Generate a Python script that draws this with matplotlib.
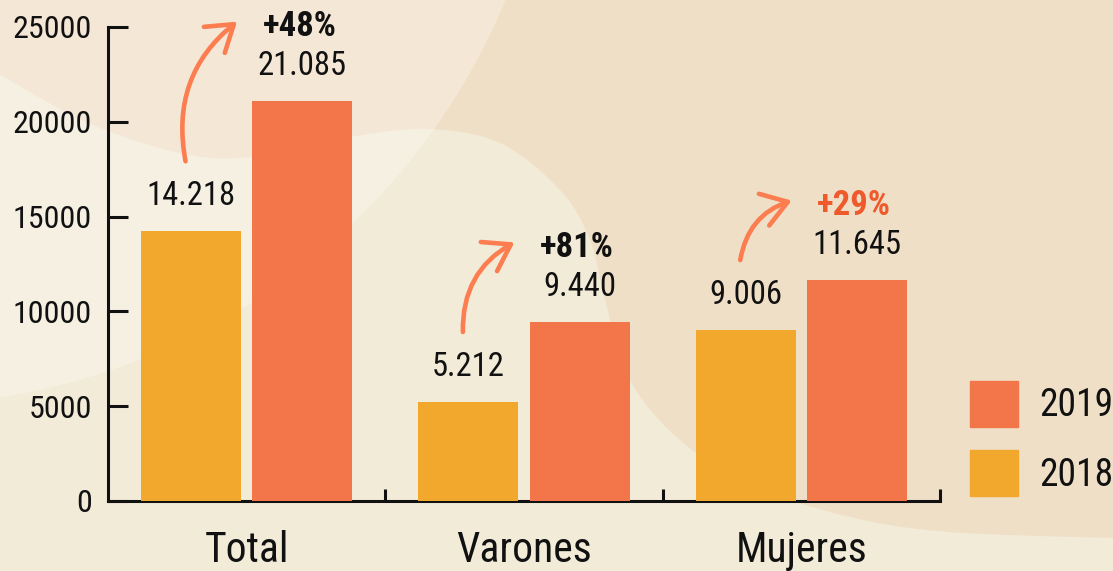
import numpy as np
import matplotlib
matplotlib.use("Agg")
import matplotlib.pyplot as plt
from matplotlib.patches import Polygon, Circle, FancyArrowPatch, Patch

categories = ["Total", "Varones", "Mujeres"]
values_2018 = [14218, 5212, 9006]
values_2019 = [21085, 9440, 11645]
labels_2018 = ["14.218", "5.212", "9.006"]
labels_2019 = ["21.085", "9.440", "11.645"]
pct_labels = ["+48%", "+81%", "+29%"]
pct_colors = ["#111111", "#111111", "#EE5A2B"]
yticks = [0, 5000, 10000, 15000, 20000, 25000]

C18 = "#F2A82C"
C19 = "#F3764B"
CARROW = "#FB7D50"
FONT = ["Roboto Condensed", "DejaVu Sans Condensed", "Liberation Sans Narrow", "Roboto", "DejaVu Sans"]
plt.rcParams["font.family"] = FONT
plt.rcParams["font.stretch"] = "condensed"

W, H = 1113, 571
fig = plt.figure(figsize=(W / 100, H / 100), dpi=100)

# ---- decorative background ----
bg = fig.add_axes([0, 0, 1, 1], zorder=0)
bg.set_xlim(0, W)
bg.set_ylim(H, 0)
bg.axis("off")
bg.add_patch(Polygon([(0, 0), (W, 0), (W, H), (0, H)], closed=True, color="#F0DFC7", lw=0))


def catmull(pts, n=20):
    pts = np.asarray(pts, float)
    p = np.vstack([pts[0], pts, pts[-1]])
    out = []
    for i in range(1, len(p) - 2):
        p0, p1, p2, p3 = p[i - 1], p[i], p[i + 1], p[i + 2]
        for t in np.linspace(0, 1, n, endpoint=False):
            t2, t3 = t * t, t * t * t
            out.append(0.5 * ((2 * p1) + (-p0 + p2) * t + (2 * p0 - 5 * p1 + 4 * p2 - p3) * t2
                              + (-p0 + 3 * p1 - 3 * p2 + p3) * t3))
    out.append(pts[-1])
    return np.array(out)


edge = [(-10, 70), (0, 75), (100, 128), (210, 158), (300, 148), (350, 137), (427, 129),
        (500, 143), (560, 190), (590, 240), (605, 300), (630, 380), (680, 440),
        (750, 485), (850, 517), (950, 532), (1113, 538), (1130, 538)]
curve = catmull(edge)
poly = np.vstack([curve, [(1130, 600), (-10, 600)]])
bg.add_patch(Polygon(poly, closed=True, color="#F2EBD7", lw=0))
bg.add_patch(Circle((-100, -250), 655, color="white", alpha=0.28, lw=0))

# ---- main axes ----
ax = fig.add_axes([108 / W, 1 - 501 / H, (940 - 108) / W, (501 - 27) / H], zorder=1)
ax.patch.set_alpha(0)

x = np.arange(len(categories))
bw = 0.361
off = 0.2004
b18 = ax.bar(x - off, values_2018, bw, color=C18, zorder=3, label="2018")
b19 = ax.bar(x + off, values_2019, bw, color=C19, zorder=3, label="2019")

ax.set_xlim(-0.5, 2.5)
ax.set_ylim(0, 25000)

for s in ["top", "right"]:
    ax.spines[s].set_visible(False)
for s in ["left", "bottom"]:
    ax.spines[s].set_linewidth(2.2)
    ax.spines[s].set_color("#111111")

ax.set_yticks(yticks)
ax.set_yticklabels([str(v) for v in yticks])
ax.tick_params(axis="y", direction="in", length=14.4, width=2.2, pad=11.5,
               labelsize=23, colors="#111111")

ax.set_xticks(x)
ax.set_xticklabels(categories)
ax.tick_params(axis="x", which="major", length=0, pad=21, labelsize=30, colors="#111111")
ax.set_xticks(x + 0.5, minor=True)
ax.tick_params(axis="x", which="minor", direction="in", length=8.6, width=2.2, colors="#111111")

# value labels
for i in range(len(categories)):
    ax.annotate(labels_2018[i], xy=(x[i] - off, values_2018[i]), xytext=(0, 18.7),
                textcoords="offset points", ha="center", va="baseline", fontsize=23.5,
                color="#111111")
    ax.annotate(labels_2019[i], xy=(x[i] + off, values_2019[i]), xytext=(0, 18.7),
                textcoords="offset points", ha="center", va="baseline", fontsize=23.5,
                color="#111111")
    ax.annotate(pct_labels[i], xy=(x[i] + off, values_2019[i]), xytext=(-2, 47),
                textcoords="offset points", ha="center", va="baseline", fontsize=25,
                fontweight="bold", color=pct_colors[i])
    arr = FancyArrowPatch((x[i] - off - 0.02, values_2018[i] + 3700),
                          (x[i] + off - 0.235, values_2019[i] + 4200),
                          connectionstyle="arc3,rad=-0.3",
                          arrowstyle="->,head_length=0.45,head_width=0.3",
                          mutation_scale=40, lw=3.3, color=CARROW,
                          shrinkA=0, shrinkB=0, zorder=4, clip_on=False)
    arr.set_capstyle("round")
    arr.set_joinstyle("round")
    ax.add_patch(arr)

# legend
handles = [Patch(color=C19, label="2019"), Patch(color=C18, label="2018")]
leg = ax.legend(handles=handles, loc="upper left",
                bbox_to_anchor=(970 / W, 1 - 381 / H), bbox_transform=fig.transFigure,
                frameon=False, fontsize=27, handlelength=1.28, handleheight=1.52,
                labelspacing=0.61, handletextpad=0.56, borderpad=0, borderaxespad=0)
for t in leg.get_texts():
    t.set_color("#111111")

fig.savefig("out.png", dpi=100, facecolor=fig.get_facecolor())
